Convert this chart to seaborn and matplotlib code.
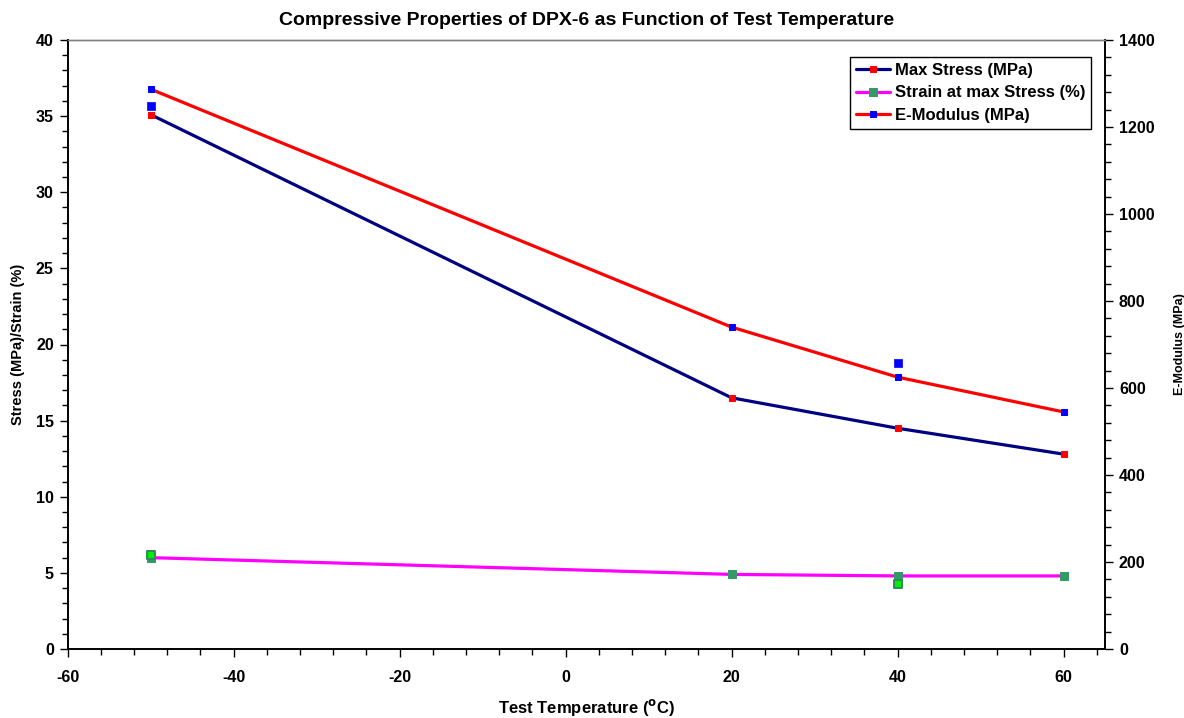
import matplotlib
matplotlib.use("Agg")
import matplotlib.pyplot as plt
from matplotlib.ticker import MultipleLocator
import seaborn as sns
import pandas as pd

# ---- data ----
temperature = [-50, 20, 40, 60]
max_stress = [35.1, 16.5, 14.5, 12.8]
strain = [6.0, 4.9, 4.8, 4.8]
e_modulus = [1287, 740, 625, 545]

extra_strain_temp = [-50, 40]
extra_strain = [6.2, 4.3]
extra_mod_temp = [-50, 40]
extra_mod = [1248, 657]

sns.set_theme(style="white")
plt.rcParams['font.family'] = ['Liberation Sans', 'DejaVu Sans']
plt.rcParams['font.weight'] = 'bold'
plt.rcParams['axes.unicode_minus'] = False
for k in ('text.color', 'axes.labelcolor', 'xtick.color', 'ytick.color', 'axes.edgecolor'):
    plt.rcParams[k] = 'black'

df = pd.DataFrame({"T": temperature, "stress": max_stress, "strain": strain, "mod": e_modulus})
df_es = pd.DataFrame({"T": extra_strain_temp, "v": extra_strain})
df_em = pd.DataFrame({"T": extra_mod_temp, "v": extra_mod})

fig = plt.figure(figsize=(11.84, 7.18), dpi=100)
ax = fig.add_axes([67.7/1184, 1-649/718, (1105-67.7)/1184, (649-40)/718])
ax2 = ax.twinx()

lw = 2.3
ms = 4.6
sns.lineplot(data=df, x="T", y="stress", ax=ax, color="#000080", lw=lw, marker="s",
             markersize=ms, markerfacecolor="red", markeredgecolor="red",
             label="Max Stress (MPa)", legend=False)
sns.lineplot(data=df, x="T", y="strain", ax=ax, color="#ff00ff", lw=lw, marker="s",
             markersize=ms+0.6, markerfacecolor="#339966", markeredgecolor="#339966",
             label="Strain at max Stress (%)", legend=False)
sns.scatterplot(data=df_es, x="T", y="v", ax=ax, marker="s", s=38, color="#00ee00",
                edgecolor="#2e8b57", linewidth=1.4, zorder=5, legend=False)

sns.lineplot(data=df, x="T", y="mod", ax=ax2, color="red", lw=lw, marker="s",
             markersize=ms, markerfacecolor="blue", markeredgecolor="blue",
             label="E-Modulus (MPa)", legend=False)
sns.scatterplot(data=df_em, x="T", y="v", ax=ax2, marker="s", s=34, color="blue",
                edgecolor="blue", linewidth=0.5, zorder=5, legend=False)

ax.set_xlim(-60, 65)
ax.set_ylim(0, 40)
ax2.set_ylim(0, 1400)
ax.xaxis.set_major_locator(MultipleLocator(20))
ax.xaxis.set_minor_locator(MultipleLocator(4))
ax.yaxis.set_major_locator(MultipleLocator(5))
ax.yaxis.set_minor_locator(MultipleLocator(1))
ax2.yaxis.set_major_locator(MultipleLocator(200))
ax2.yaxis.set_minor_locator(MultipleLocator(40))

for a in (ax, ax2):
    a.tick_params(which='major', length=6, width=1, color='black', labelsize=11.5,
                  labelcolor='black', pad=4)
    a.tick_params(which='minor', length=4, width=1, color='black')
ax.tick_params(axis='x', which='both', bottom=True, direction='out')
ax.tick_params(axis='x', which='major', pad=9)
ax.tick_params(axis='y', which='both', left=True, direction='out')
ax2.tick_params(axis='y', which='both', right=True, direction='out')
for lab in ax.get_xticklabels() + ax.get_yticklabels() + ax2.get_yticklabels():
    lab.set_fontweight('bold')

for a in (ax, ax2):
    for s in a.spines.values():
        s.set_linewidth(1.2)
        s.set_color('black')
    a.spines['top'].set_color('#808080')
    a.spines['top'].set_linewidth(1)
ax.grid(False)
ax2.grid(False)

ax.set_xlabel("Test Temperature ($\\mathbf{^{o}}$C)", fontsize=12, fontweight='bold',
              labelpad=9, color='black')
ax.set_ylabel("Stress (MPa)/Strain (%)", fontsize=10.5, fontweight='bold', labelpad=8,
              color='black')
ax2.set_ylabel("E-Modulus (MPa)", fontsize=9, fontweight='bold', labelpad=14, color='black')
ax.set_title("Compressive Properties of DPX-6 as Function of Test Temperature",
             fontsize=14, fontweight='bold', pad=11, color='black')

h1, l1 = ax.get_legend_handles_labels()
h2, l2 = ax2.get_legend_handles_labels()
leg = ax2.legend(h1 + h2, l1 + l2, loc='upper right', bbox_to_anchor=(0.9865, 0.972),
                 borderaxespad=0, fancybox=False, framealpha=1, edgecolor='black',
                 prop={'weight': 'bold', 'size': 12}, handlelength=2.0,
                 borderpad=0.35, labelspacing=0.45, handletextpad=0.3)
leg.get_frame().set_linewidth(1)
for t in leg.get_texts():
    t.set_color('black')

fig.savefig("out.png", dpi=100)
